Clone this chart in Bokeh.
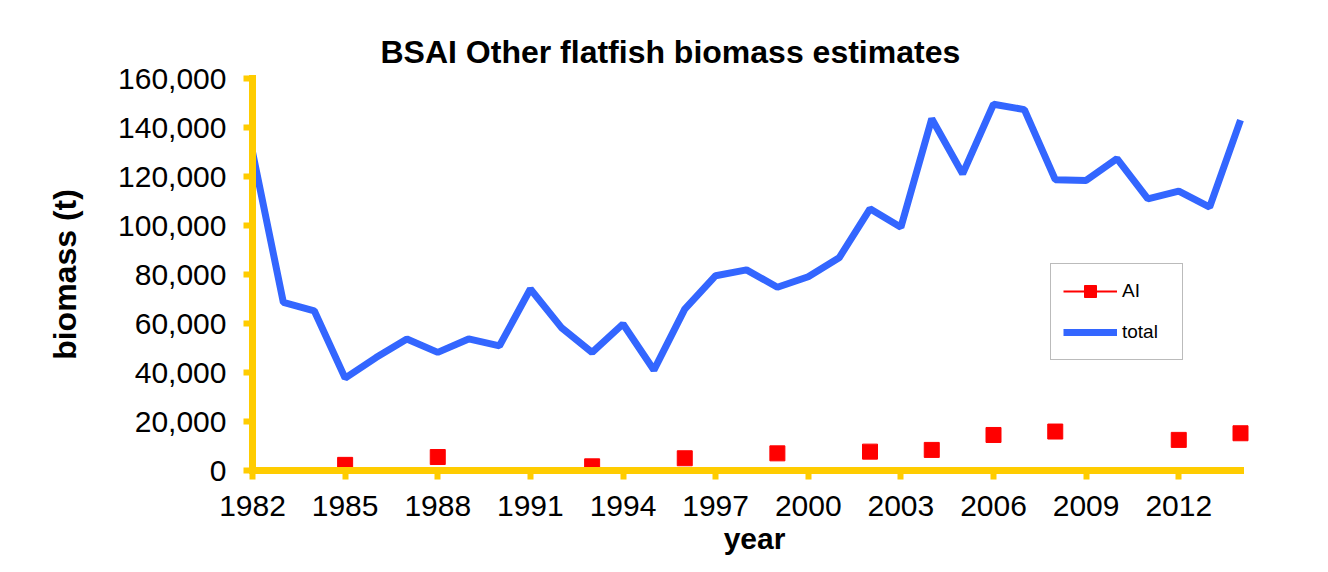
from bokeh.plotting import figure
from bokeh.models import Range1d, FixedTicker, NumeralTickFormatter, Legend, LegendItem
from bokeh.embed import file_html
from bokeh.resources import INLINE

# ---- data ----
years = list(range(1982, 2015))
total = [130000, 68600, 65200, 37700, 46100, 53700, 48200, 53700, 50900, 74100,
         58400, 48200, 59800, 41000, 65900, 79500, 81900, 74800, 79100, 86800,
         106800, 99300, 143600, 121100, 149500, 147300, 118700, 118400, 127300,
         110900, 114000, 107500, 143000]
ai_years = [1985, 1988, 1993, 1996, 1999, 2002, 2004, 2006, 2008, 2012, 2014]
ai = [2300, 5500, 1700, 5000, 7000, 7700, 8400, 14500, 15900, 12500, 15200]
x_ticks = list(range(1982, 2013, 3))
y_ticks = list(range(0, 160001, 20000))

FONT = "Liberation Sans"
YELLOW = "#FFCC00"

frame_w = 1004
px_per_year = 30.875

p = figure(width=1312, height=568, output_backend="svg", toolbar_location=None,
           title="BSAI Other flatfish biomass estimates",
           x_range=Range1d(1982, 1982 + frame_w / px_per_year),
           y_range=Range1d(0, 160000),
           min_border_left=252, min_border_right=56,
           min_border_top=78, min_border_bottom=98)

p.title.align = "left"
p.title.offset = 128
p.title.standoff = 18
p.title.text_font = FONT
p.title.text_font_size = "32px"
p.title.text_font_style = "bold"
p.title.text_color = "black"

p.xgrid.visible = False
p.ygrid.visible = False
p.outline_line_color = None
p.background_fill_color = "white"
p.border_fill_color = "white"

# legend-only red line (kept outside the visible range)
ai_leg_line = p.line([1982, 1983], [-50000, -50000], line_color="#FF0000", line_width=2)
tot_r = p.line(years, total, line_color="#3366FF", line_width=7)
ai_r = p.scatter(ai_years, ai, marker="square", size=15,
                 fill_color="#FF0000", line_color="#FF0000")

for ax in (p.xaxis[0], p.yaxis[0]):
    ax.axis_line_color = YELLOW
    ax.axis_line_width = 7
    ax.axis_line_cap = "square"
    ax.major_tick_line_color = YELLOW
    ax.major_tick_line_width = 6
    ax.major_tick_in = 0
    ax.major_tick_out = 9
    ax.minor_tick_line_color = None
    ax.major_label_text_font = FONT
    ax.major_label_text_font_size = "30px"
    ax.major_label_text_color = "black"
    ax.axis_label_text_font = FONT
    ax.axis_label_text_font_style = "bold"
    ax.axis_label_text_color = "black"

p.xaxis.ticker = FixedTicker(ticks=x_ticks)
p.xaxis.bounds = (1982, 2014)
p.xaxis.axis_label = "year"
p.xaxis.axis_label_text_font_size = "30px"
p.xaxis.major_label_standoff = 16
p.xaxis.axis_label_standoff = 3

p.yaxis.ticker = FixedTicker(ticks=y_ticks)
p.yaxis.formatter = NumeralTickFormatter(format="0,0")
p.yaxis.axis_label = "biomass (t)"
p.yaxis.axis_label_text_font_size = "32px"
p.yaxis.major_label_standoff = 17
p.yaxis.axis_label_standoff = 32

legend = Legend(items=[LegendItem(label="AI", renderers=[ai_leg_line, ai_r]),
                       LegendItem(label="total", renderers=[tot_r])],
                location=(798, 110),
                glyph_width=54, glyph_height=30, label_height=30,
                label_width=48, label_standoff=5, spacing=11, padding=12,
                margin=0,
                label_text_font=FONT, label_text_font_size="19px",
                label_text_color="black",
                border_line_color="#777777", border_line_width=1,
                background_fill_color="white", background_fill_alpha=1)
p.add_layout(legend)

open("out.html", "w").write(file_html(p, INLINE))
